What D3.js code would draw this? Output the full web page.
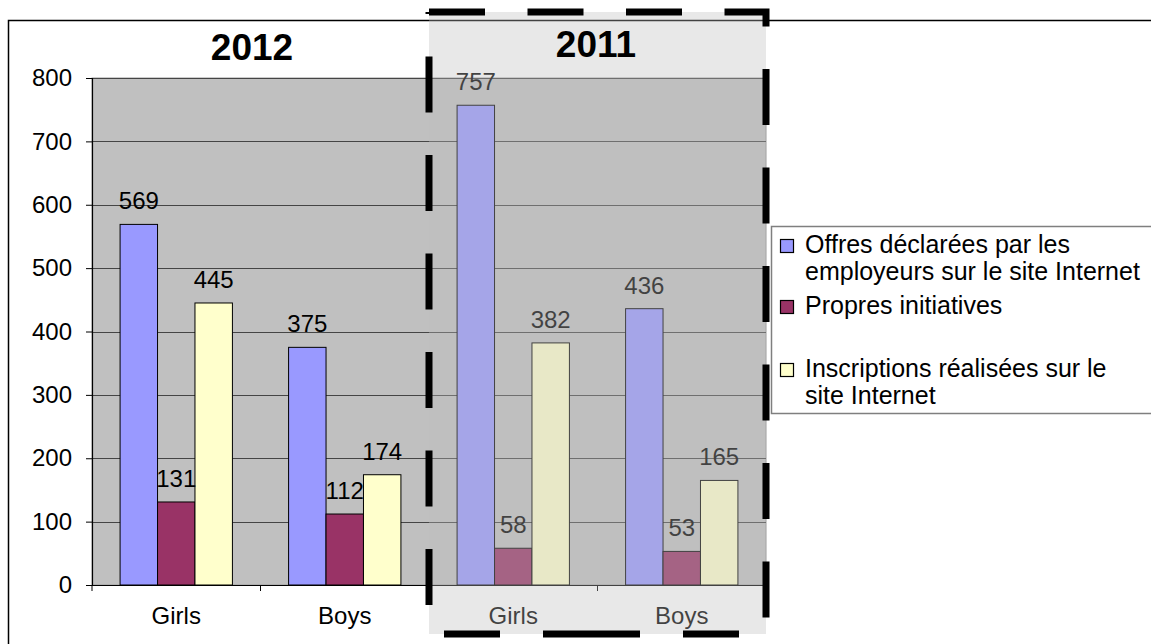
<!DOCTYPE html>
<html>
<head>
<meta charset="utf-8">
<script src="https://cdn.jsdelivr.net/npm/d3@7"></script>
<style>
  html, body { margin: 0; padding: 0; background: #ffffff; }
  svg { display: block; font-family: "Liberation Sans", Arial, sans-serif; }
</style>
</head>
<body>
<svg id="chart" width="1151" height="644"></svg>
<script>
// ---- data ----
const years = ["2012", "2011"];
const genders = ["Girls", "Boys"];
const groups = ["Girls 2012", "Boys 2012", "Girls 2011", "Boys 2011"];
const groupLabels = ["Girls", "Boys", "Girls", "Boys"];
const seriesNames = [
  "Offres déclarées par les employeurs sur le site Internet",
  "Propres initiatives",
  "Inscriptions réalisées sur le site Internet"
];
const legendLines = [
  ["Offres déclarées par les", "employeurs sur le site Internet"],
  ["Propres initiatives"],
  ["Inscriptions réalisées sur le", "site Internet"]
];
const offres = [569, 375, 757, 436];
const propres = [131, 112, 58, 53];
const inscriptions = [445, 174, 382, 165];
const yTicks = [0, 100, 200, 300, 400, 500, 600, 700, 800];
const colors = ["#9999FF", "#993366", "#FFFFCC"];

const seriesValues = [offres, propres, inscriptions];

// ---- layout ----
const svg = d3.select("#chart");
const plot = { left: 92, right: 766, top: 78, bottom: 585 };

const x0 = d3.scaleBand().domain(groups).range([plot.left, plot.right]).paddingInner(0).paddingOuter(0);
const x1 = d3.scaleBand().domain(seriesNames).range([0, x0.bandwidth()]).paddingInner(0).paddingOuter(0.75);
const y = d3.scaleLinear().domain([0, 800]).range([plot.bottom, plot.top]);

// outer chart border (extends beyond the visible window)
svg.append("rect")
  .attr("x", 8.5).attr("y", 20.5).attr("width", 1200).attr("height", 700)
  .attr("fill", "#ffffff").attr("stroke", "#000").attr("stroke-width", 1.5);

// plot area
svg.append("rect")
  .attr("x", plot.left).attr("y", plot.top)
  .attr("width", plot.right - plot.left).attr("height", plot.bottom - plot.top)
  .attr("fill", "#C0C0C0").attr("stroke", "#9a9a9a").attr("stroke-width", 1);

// gridlines
svg.append("g").selectAll("line").data(yTicks.filter(d => d > 0)).join("line")
  .attr("x1", plot.left).attr("x2", plot.right)
  .attr("y1", d => Math.round(y(d)) + 0.5).attr("y2", d => Math.round(y(d)) + 0.5)
  .attr("stroke", "#454545").attr("stroke-width", 1);

// bars
const rows = groups.map((g, i) => ({ group: g, values: seriesNames.map((s, k) => ({ series: s, k, value: seriesValues[k][i] })) }));

const gGroups = svg.append("g").selectAll("g").data(rows).join("g")
  .attr("transform", d => `translate(${x0(d.group)},0)`);

gGroups.selectAll("rect").data(d => d.values).join("rect")
  .attr("x", d => x1(d.series))
  .attr("y", d => y(d.value))
  .attr("width", x1.bandwidth())
  .attr("height", d => y(0) - y(d.value))
  .attr("fill", d => colors[d.k])
  .attr("stroke", "#000").attr("stroke-width", 1);

gGroups.selectAll("text").data(d => d.values).join("text")
  .attr("x", d => x1(d.series) + x1.bandwidth() / 2)
  .attr("y", d => y(d.value) - 15)
  .attr("text-anchor", "middle")
  .attr("font-size", 24)
  .attr("fill", "#000")
  .text(d => d.value);

// y axis
const yAxis = d3.axisLeft(y).tickValues(yTicks).tickSize(6).tickPadding(14);
const gy = svg.append("g").attr("transform", `translate(${plot.left},0)`).call(yAxis);
gy.select(".domain").attr("stroke", "#000").attr("stroke-width", 1.2);
gy.selectAll(".tick line").attr("stroke", "#000");
gy.selectAll(".tick text").attr("font-size", 24).attr("font-family", "Liberation Sans, Arial, sans-serif").attr("fill", "#000");

// x axis
const xAxis = d3.axisBottom(x0).tickSize(0).tickPadding(22).tickFormat((d, i) => groupLabels[i]);
const gx = svg.append("g").attr("transform", `translate(0,${plot.bottom})`).call(xAxis);
gx.select(".domain").attr("stroke", "#000").attr("stroke-width", 1.2);
gx.selectAll(".tick text").attr("font-size", 24).attr("font-family", "Liberation Sans, Arial, sans-serif").attr("fill", "#000");
// tick marks at category boundaries
const boundaries = groups.map(g => x0(g)).concat([plot.right]);
svg.append("g").selectAll("line").data(boundaries).join("line")
  .attr("x1", d => d).attr("x2", d => d)
  .attr("y1", plot.bottom).attr("y2", plot.bottom + 6)
  .attr("stroke", "#000").attr("stroke-width", 1);

// legend
const legend = svg.append("g");
legend.append("rect")
  .attr("x", 771.5).attr("y", 226.5).attr("width", 400).attr("height", 187)
  .attr("fill", "#fff").attr("stroke", "#7f7f7f").attr("stroke-width", 1.5);
const legendBase = [253, 314, 377];
const legendItems = legend.selectAll("g.item").data(seriesNames).join("g").attr("class", "item");
legendItems.append("rect")
  .attr("x", 780.5).attr("y", (d, i) => legendBase[i] - 13.5)
  .attr("width", 13).attr("height", 13)
  .attr("fill", (d, i) => colors[i]).attr("stroke", "#000").attr("stroke-width", 1.2);
legendItems.each(function (d, i) {
  d3.select(this).selectAll("text").data(legendLines[i]).join("text")
    .attr("x", 805).attr("y", (t, j) => legendBase[i] + j * 27)
    .attr("font-size", 25).attr("fill", "#000").text(t => t);
});

// 2011 highlight overlay
const hx0 = x0("Girls 2011"), hx1 = plot.right, hy0 = 12, hy1 = 634;
svg.append("rect")
  .attr("x", hx0).attr("y", hy0).attr("width", hx1 - hx0).attr("height", hy1 - hy0)
  .attr("fill", "rgb(190,190,190)").attr("fill-opacity", 0.35);

// year titles (drawn above the overlay)
const titleX = [252, 596];
const titleY = [60, 57];
svg.append("g").selectAll("text").data(years).join("text")
  .attr("x", (d, i) => titleX[i]).attr("y", (d, i) => titleY[i])
  .attr("text-anchor", "middle").attr("font-size", 37).attr("font-weight", "bold")
  .attr("fill", "#000").text(d => d);

// thick dashed frame
const dash = svg.append("g").attr("fill", "none").attr("stroke", "#000").attr("stroke-width", 7);
dash.append("path")
  .attr("d", `M${hx0},${hy0} H${hx1} V${hy1}`)
  .attr("stroke-dasharray", "56 42.5");
dash.append("path")
  .attr("d", `M${hx1},${hy1} H${hx0}`)
  .attr("stroke-dasharray", "0 27 56 43 97 43 56 40");
dash.append("path")
  .attr("d", `M${hx0},${hy1} V${hy0}`)
  .attr("stroke-dasharray", "56 42.5").attr("stroke-dashoffset", 69.5);
</script>
</body>
</html>
